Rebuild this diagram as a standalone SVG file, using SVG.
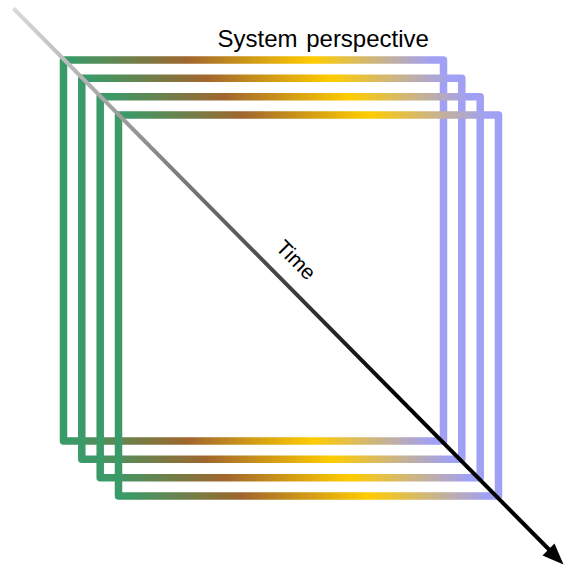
<svg xmlns="http://www.w3.org/2000/svg" width="564" height="570" viewBox="0 0 564 570">
  <defs>
    <linearGradient id="frameGrad" x1="0" y1="0" x2="1" y2="0">
      <stop offset="0.02" stop-color="#3A9A68"/>
      <stop offset="0.325" stop-color="#A0662E"/>
      <stop offset="0.657" stop-color="#FFCC00"/>
      <stop offset="0.97" stop-color="#A0A0F5"/>
    </linearGradient>
    <linearGradient id="timeGrad" gradientUnits="userSpaceOnUse" x1="13" y1="8" x2="563" y2="564">
      <stop offset="0" stop-color="#DADADA"/>
      <stop offset="0.7" stop-color="#000000"/>
    </linearGradient>
    <style>
      .frame { fill: none; stroke: url(#frameGrad); stroke-width: 7.5; stroke-linejoin: round; }
      .label { font-family: "Liberation Sans", Arial, sans-serif; fill: #000; }
    </style>
  </defs>

  <g id="frame1"><rect class="frame" x="63.5" y="60" width="380" height="381"/></g>
  <g id="frame2"><rect class="frame" x="81.8" y="78.3" width="380" height="381"/></g>
  <g id="frame3"><rect class="frame" x="100.2" y="96.7" width="380" height="381"/></g>
  <g id="frame4"><rect class="frame" x="118.5" y="115" width="380" height="381"/></g>

  <g id="connectors">
    <g id="time-arrow">
      <line x1="13.5" y1="8.5" x2="550" y2="550.5" stroke="url(#timeGrad)" stroke-width="4"/>
      <polygon points="563.5,564.5 542.5,555.5 554.5,543.5" fill="#000"/>
    </g>
  </g>

  <g id="title">
    <text class="label" x="217.5" y="46.5" font-size="24" word-spacing="2">System perspective</text>
  </g>
  <g id="time-label">
    <text class="label" transform="translate(296,260) rotate(45)" x="0" y="7" font-size="21" text-anchor="middle">Time</text>
  </g>
</svg>
